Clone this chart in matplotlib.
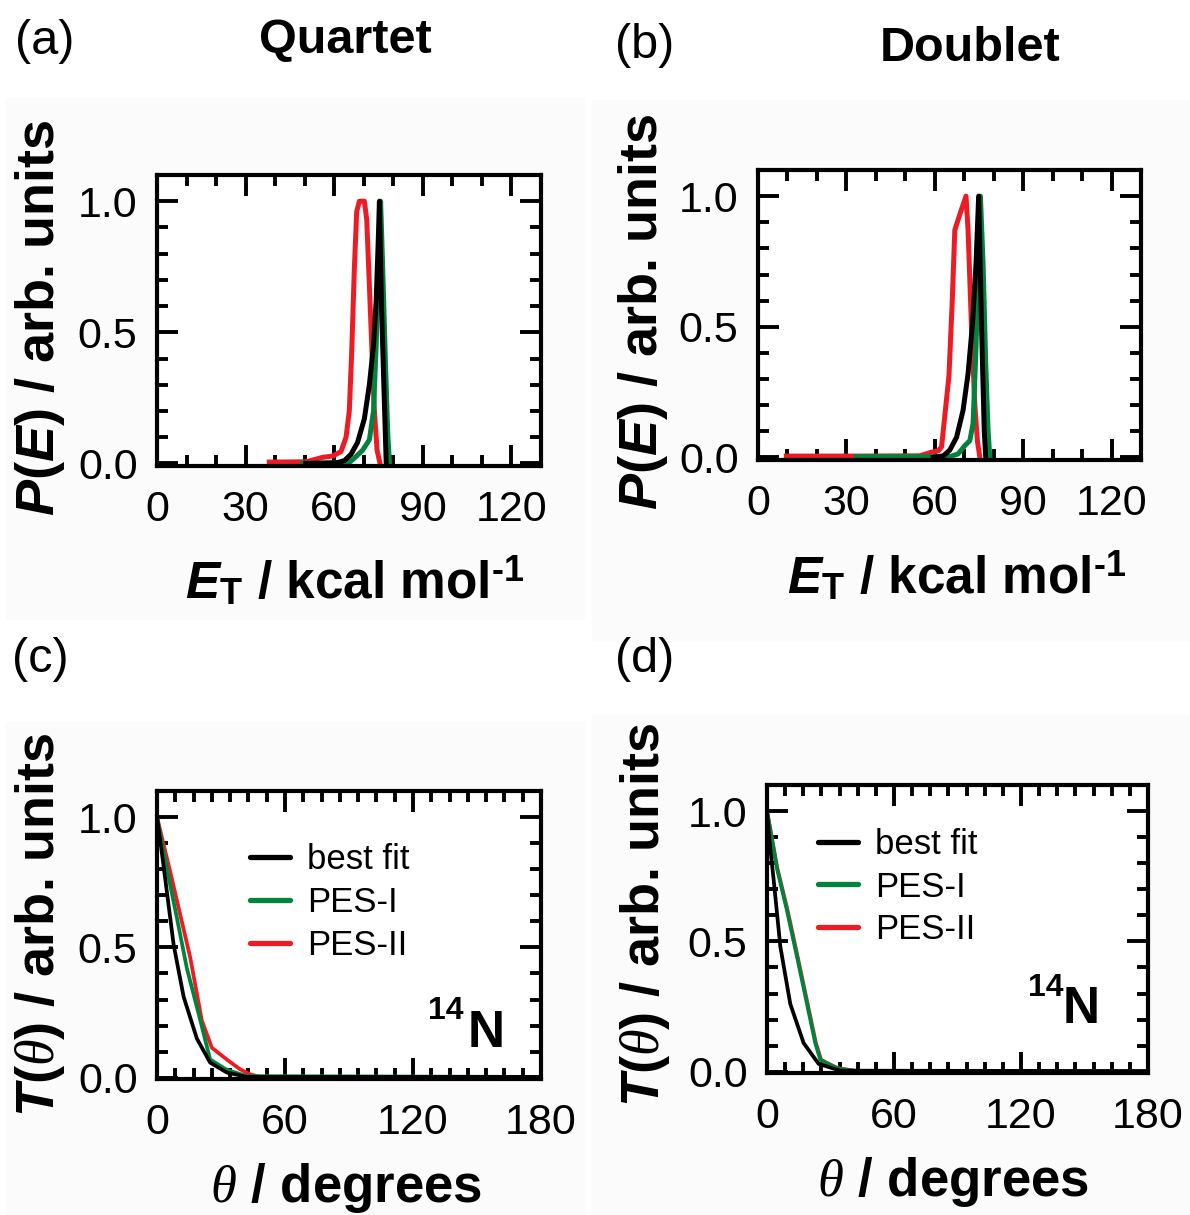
import matplotlib
matplotlib.use('Agg')
import numpy as np
import matplotlib.pyplot as plt
from matplotlib.ticker import MultipleLocator, FormatStrFormatter
from matplotlib.patches import Rectangle
from matplotlib.lines import Line2D

plt.rcParams['font.family'] = ['Liberation Sans', 'DejaVu Sans']
plt.rcParams['mathtext.fontset'] = 'custom'
plt.rcParams['mathtext.rm'] = 'Liberation Sans:bold'
plt.rcParams['mathtext.bf'] = 'Liberation Sans:bold'
plt.rcParams['mathtext.it'] = 'Liberation Serif:italic'
plt.rcParams['mathtext.bfit'] = 'Liberation Sans:italic:bold'

# translational energy distributions, quartet surface (a)
qa_red_x = [38, 50.4, 56.1, 59.5, 62.3, 64.0, 65.1, 65.9, 66.8, 67.6, 68.5, 70.2, 71.0, 71.9, 72.8, 73.6, 74.5, 75.5]
qa_red_y = [0.005, 0.006, 0.023, 0.028, 0.045, 0.10, 0.20, 0.42, 0.74, 0.96, 1.0, 1.0, 0.93, 0.68, 0.42, 0.20, 0.05, 0.0]
qa_green_x = [49.3, 65.1, 66.8, 69.6, 71.9, 73.3, 74.2, 75.0, 75.7, 76.4, 77.3, 78.1, 78.7]
qa_green_y = [0.0, 0.003, 0.02, 0.05, 0.09, 0.2, 0.45, 0.75, 1.0, 0.75, 0.4, 0.12, 0.0]
qa_black_x = [50.4, 60.6, 63.4, 65.7, 67.9, 70.2, 71.9, 73.3, 74.2, 74.9, 75.3, 76.0, 76.8, 77.6]
qa_black_y = [0.0, 0.002, 0.01, 0.035, 0.08, 0.17, 0.30, 0.45, 0.62, 0.85, 1.0, 0.6, 0.3, 0.0]

# translational energy distributions, doublet surface (b)
db_red_x = [9.6, 33.4, 54.9, 58.9, 61.2, 62.3, 64.8, 65.9, 66.8, 68.5, 70.6, 71.3, 72.5, 73.6, 74.5, 75.3]
db_red_y = [0.005, 0.005, 0.006, 0.02, 0.025, 0.04, 0.31, 0.59, 0.87, 0.93, 1.0, 0.87, 0.49, 0.20, 0.06, 0.0]
db_green_x = [33.4, 65.1, 67.9, 70.2, 71.9, 73.0, 74.0, 74.7, 75.5, 76.4, 77.3, 78.1, 78.7]
db_green_y = [0.003, 0.003, 0.013, 0.045, 0.064, 0.13, 0.42, 0.74, 1.0, 0.74, 0.36, 0.10, 0.0]
db_black_x = [59.5, 62.9, 65.1, 67.4, 69.6, 71.3, 72.8, 74.0, 74.9, 75.9, 76.8, 77.3]
db_black_y = [0.0, 0.006, 0.028, 0.077, 0.18, 0.32, 0.51, 0.74, 1.0, 0.49, 0.10, 0.0]

# angular distributions, quartet (c)
qc_red_x = [0, 6.2, 15.6, 21.0, 25.7, 32.7, 39.0, 43.6, 48.3, 180]
qc_red_y = [1.0, 0.79, 0.46, 0.22, 0.115, 0.07, 0.032, 0.013, 0.003, 0.003]
qc_green_x = [0, 4.7, 9.4, 14.0, 20.3, 24.9, 32.7, 42.1, 180]
qc_green_y = [1.0, 0.80, 0.61, 0.42, 0.22, 0.07, 0.03, 0.006, 0.003]
qc_black_x = [0, 2.0, 3.9, 7.8, 12.5, 18.7, 24.9, 32.7, 42.1, 180]
qc_black_y = [1.0, 0.88, 0.76, 0.51, 0.31, 0.15, 0.058, 0.02, 0.003, 0.003]

# angular distributions, doublet (d)
dd_red_x = [0, 4.9, 9.7, 14.5, 19.2, 23.1, 25.6, 33.5, 43.0, 180]
dd_red_y = [1.0, 0.78, 0.62, 0.44, 0.26, 0.11, 0.045, 0.013, 0.002, 0.002]
dd_green_x = [0, 4.7, 9.4, 14.2, 18.9, 22.8, 25.2, 33.1, 42.5, 180]
dd_green_y = [1.0, 0.78, 0.62, 0.44, 0.26, 0.11, 0.045, 0.013, 0.002, 0.002]
dd_black_x = [0, 1.5, 3.1, 6.3, 11.0, 17.3, 24.4, 34.6, 180]
dd_black_y = [1.0, 0.86, 0.74, 0.48, 0.26, 0.11, 0.03, 0.004, 0.002]

series_names = ['best fit', 'PES-I', 'PES-II']
RED = '#ed1c24'
GREEN = '#00843d'
BLACK = '#000000'

W, H = 1190, 1215
fig = plt.figure(figsize=(W / 100, H / 100), dpi=100)


def px_axes(x0, y0, x1, y1):
    return fig.add_axes([x0 / W, 1 - y1 / H, (x1 - x0) / W, (y1 - y0) / H])


def panel_bg(x0, y0, x1, y1):
    fig.patches.append(Rectangle((x0 / W, 1 - y1 / H), (x1 - x0) / W, (y1 - y0) / H,
                                 transform=fig.transFigure, color='#fbfbfb', zorder=-10))


def ftext(x, y, s, **kw):
    return fig.text(x / W, 1 - y / H, s, **kw)


def style(ax, xmax, xmajor, xminor, ylow):
    ax.set_xlim(0, xmax)
    ax.set_ylim(ylow, 1.1)
    ax.xaxis.set_major_locator(MultipleLocator(xmajor))
    ax.xaxis.set_minor_locator(MultipleLocator(xminor))
    ax.yaxis.set_major_locator(MultipleLocator(0.5))
    ax.yaxis.set_minor_locator(MultipleLocator(0.1))
    ax.yaxis.set_major_formatter(FormatStrFormatter('%.1f'))
    ax.tick_params(which='both', direction='in', top=True, right=True, width=2.8, labelsize=31)
    ax.tick_params(which='major', length=15)
    ax.tick_params(which='minor', length=8)
    ax.tick_params(axis='x', pad=17)
    ax.tick_params(axis='y', pad=14)
    for s in ax.spines.values():
        s.set_linewidth(3)


panel_bg(6, 98, 584, 619)
panel_bg(592, 100, 1190, 640)
panel_bg(6, 722, 584, 1215)
panel_bg(592, 715, 1190, 1215)

ax_a = px_axes(157, 175, 541, 466)
ax_b = px_axes(758, 170, 1141, 460)
ax_c = px_axes(157, 791, 541, 1079)
ax_d = px_axes(767, 785, 1148, 1073)

# energy panels
for ax, rx, ry, gx, gy, bx, by in [
        (ax_a, qa_red_x, qa_red_y, qa_green_x, qa_green_y, qa_black_x, qa_black_y),
        (ax_b, db_red_x, db_red_y, db_green_x, db_green_y, db_black_x, db_black_y)]:
    ax.plot(rx, ry, color=RED, lw=3.6, solid_joinstyle='round')
    ax.plot(gx, gy, color=GREEN, lw=3.6, solid_joinstyle='round')
    ax.plot(bx, by, color=BLACK, lw=3.6, solid_joinstyle='round')
    style(ax, 130, 30, 10, -0.01)

# angular panels
for ax, rx, ry, gx, gy, bx, by in [
        (ax_c, qc_red_x, qc_red_y, qc_green_x, qc_green_y, qc_black_x, qc_black_y),
        (ax_d, dd_red_x, dd_red_y, dd_green_x, dd_green_y, dd_black_x, dd_black_y)]:
    ax.plot(rx, ry, color=RED, lw=2.7, solid_joinstyle='round')
    ax.plot(gx, gy, color=GREEN, lw=2.7, solid_joinstyle='round')
    ax.plot(bx, by, color=BLACK, lw=2.7, solid_joinstyle='round')
    style(ax, 180, 60, 60 / 7, -0.005)

handles = [Line2D([], [], color=c, lw=3.8, solid_capstyle='round') for c in (BLACK, GREEN, RED)]
for ax, anchor in [(ax_c, (0.242, 0.818)), (ax_d, (0.134, 0.851))]:
    ax.legend(handles, series_names, loc='upper left', bbox_to_anchor=anchor,
              frameon=False, fontsize=25, handlelength=1.15, handletextpad=0.5,
              labelspacing=0.28, borderaxespad=0, borderpad=0)

# panel letters and titles
ftext(45, 42, '(a)', fontsize=35, ha='center', va='center')
ftext(645, 45, '(b)', fontsize=35, ha='center', va='center')
ftext(40, 660, '(c)', fontsize=35, ha='center', va='center')
ftext(645, 660, '(d)', fontsize=35, ha='center', va='center')
ftext(345, 53, 'Quartet', fontsize=35, fontweight='bold', ha='center', va='baseline')
ftext(970, 61, 'Doublet', fontsize=35, fontweight='bold', ha='center', va='baseline')

# axis titles
et_label = r'$\mathbfit{E}_{\mathrm{T}}$ / kcal mol$^{\text{-1}}$'
ftext(355, 598, et_label, fontsize=37, fontweight='bold', ha='center', va='baseline')
ftext(957, 593, et_label, fontsize=37, fontweight='bold', ha='center', va='baseline')
th_label = r'$\theta$ / degrees'
ftext(346, 1202, th_label, fontsize=38, fontweight='bold', ha='center', va='baseline')
ftext(953, 1196, th_label, fontsize=38, fontweight='bold', ha='center', va='baseline')

pe_label = r'$\mathbfit{P}$($\mathbfit{E}$) / arb. units'
ftext(40, 318, pe_label, fontsize=39, fontweight='bold', rotation=90, ha='center', va='center')
ftext(643, 312, pe_label, fontsize=39, fontweight='bold', rotation=90, ha='center', va='center')
tt_label = r'$\mathbfit{T}$($\theta$) / arb. units'
ftext(40, 925, tt_label, fontsize=39, fontweight='bold', rotation=90, ha='center', va='center')
ftext(645, 915, tt_label, fontsize=39, fontweight='bold', rotation=90, ha='center', va='center')

# isotope tags
ftext(505, 1047, 'N', fontsize=37, fontweight='bold', ha='right', va='baseline')
ftext(463, 1019, '14', fontsize=23, fontweight='bold', ha='right', va='baseline')
ftext(1100, 1023, 'N', fontsize=37, fontweight='bold', ha='right', va='baseline')
ftext(1063, 996, '14', fontsize=23, fontweight='bold', ha='right', va='baseline')

fig.savefig('out.png', dpi=100)
